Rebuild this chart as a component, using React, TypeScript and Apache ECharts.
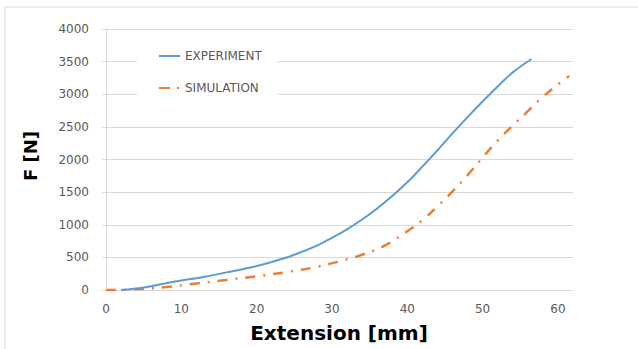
import React, { useEffect, useRef } from "react";
import * as echarts from "echarts";

const expX = [2, 5, 8, 10, 13, 16, 19, 22, 25, 28, 30, 32, 34, 36, 38, 40, 42, 44, 46, 48, 50, 52, 54, 56.5];
const expY = [0, 40, 105, 145, 200, 270, 340, 430, 540, 680, 800, 930, 1080, 1250, 1440, 1650, 1890, 2140, 2400, 2650, 2890, 3120, 3335, 3540];
const simX = [0, 4, 8, 12, 16, 20, 24, 28, 31, 34, 37, 40, 42, 44, 46, 48, 50, 52, 54, 56, 58, 60, 61.5];
const simY = [0, 10, 45, 100, 155, 210, 275, 355, 440, 540, 680, 900, 1070, 1280, 1510, 1760, 2030, 2290, 2520, 2740, 2960, 3150, 3280];
const seriesNames = ["EXPERIMENT", "SIMULATION"];
const xTitle = "Extension [mm]";
const yTitle = "F [N]";

export default function App() {
  const ref = useRef<HTMLDivElement>(null);
  useEffect(() => {
    if (!ref.current) return;
    const chart = echarts.init(ref.current, null, { renderer: "svg" });
    const gray = "#595959";
    const font = "DejaVu Sans";
    chart.setOption({
      animation: false,
      backgroundColor: "#ffffff",
      grid: { left: 106, right: 65, top: 29, bottom: 59 },
      legend: {
        orient: "vertical",
        left: 137,
        top: 44,
        padding: [6, 16, 6, 21],
        backgroundColor: "#ffffff",
        itemWidth: 21,
        itemHeight: 2,
        itemGap: 20,
        textStyle: { color: gray, fontSize: 12, fontFamily: font },
        data: seriesNames,
      },
      xAxis: {
        type: "value",
        min: 0,
        max: 62,
        interval: 10,
        axisLine: { show: true, lineStyle: { color: "#d9d9d9", width: 1 } },
        axisTick: { show: false },
        splitLine: { show: false },
        axisLabel: {
          color: gray,
          fontSize: 12,
          fontFamily: font,
          margin: 13,
          formatter: (v: number) => (v % 10 === 0 ? String(v) : ""),
        },
      },
      yAxis: {
        type: "value",
        min: 0,
        max: 4000,
        interval: 500,
        axisLine: { show: true, lineStyle: { color: "#d9d9d9" } },
        axisTick: { show: true, length: 4, lineStyle: { color: "#d9d9d9" } },
        splitLine: { show: true, lineStyle: { color: "#d9d9d9", width: 1 } },
        axisLabel: {
          color: gray,
          fontSize: 12,
          fontFamily: font,
          margin: 17,
          formatter: (v: number) => String(v),
        },
      },
      graphic: [
        {
          type: "rect",
          shape: { x: 5, y: 7, width: 700, height: 400 },
          style: { fill: "none", stroke: "#d9d9d9", lineWidth: 1 },
          silent: true,
          z: -10,
        },
        {
          type: "text",
          x: 339,
          y: 333,
          style: {
            text: xTitle,
            align: "center",
            verticalAlign: "middle",
            fill: "#000000",
            font: `bold 20px "${font}"`,
          },
        },
        {
          type: "text",
          x: 30,
          y: 156,
          rotation: Math.PI / 2,
          style: {
            text: yTitle,
            align: "center",
            verticalAlign: "middle",
            fill: "#000000",
            font: `bold 18px "${font}"`,
          },
        },
      ],
      series: [
        {
          name: seriesNames[0],
          type: "line",
          smooth: 0.4,
          showSymbol: false,
          symbol: "none",
          data: expX.map((x, i) => [x, expY[i]]),
          lineStyle: { color: "#5b9bd5", width: 2 },
          itemStyle: { color: "#5b9bd5" },
          z: 3,
        },
        {
          name: seriesNames[1],
          type: "line",
          smooth: 0.4,
          showSymbol: false,
          symbol: "none",
          data: simX.map((x, i) => [x, simY[i]]),
          lineStyle: { color: "#ed7d31", width: 2.5, type: [10, 8, 2, 8] },
          itemStyle: { color: "#ed7d31" },
          z: 2,
        },
      ],
    });
    return () => chart.dispose();
  }, []);
  return (
    <div
      ref={ref}
      style={{ position: "fixed", left: 0, top: 0, width: 638, height: 349 }}
    />
  );
}
